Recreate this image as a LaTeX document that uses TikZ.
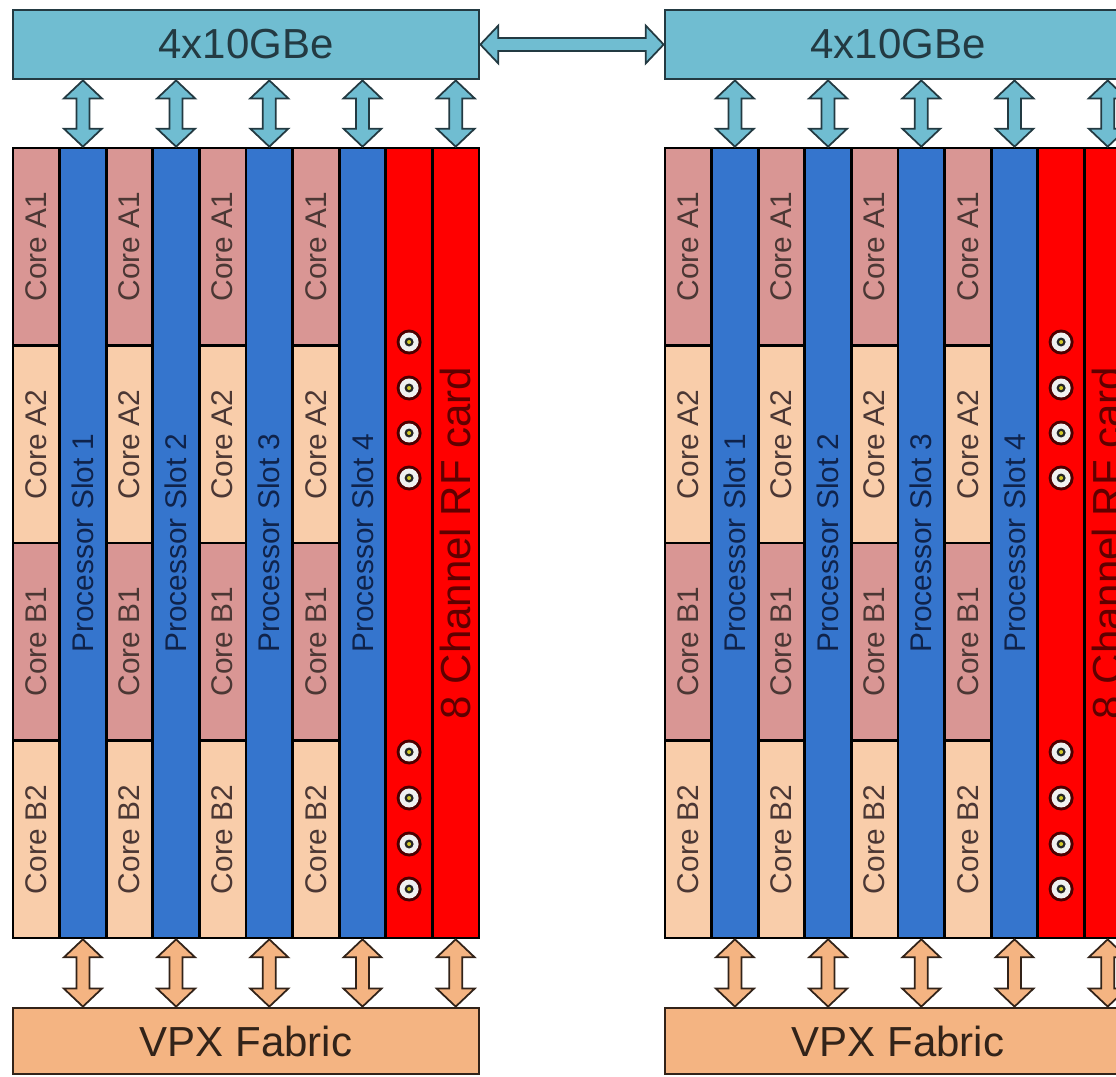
\documentclass[tikz,border=0pt]{standalone}
\usepackage{fontspec}
\setmainfont{Liberation Sans}
\usepackage{xcolor}
\usepackage{tikz}
\usetikzlibrary{calc}

\definecolor{gbecyan}{RGB}{112,189,209}
\definecolor{gbeline}{RGB}{35,58,66}
\definecolor{vpxorange}{RGB}{244,180,130}
\definecolor{vpxline}{RGB}{50,35,25}
\definecolor{corepink}{RGB}{217,150,148}
\definecolor{corepeach}{RGB}{249,205,170}
\definecolor{slotblue}{RGB}{53,117,205}
\definecolor{rfred}{RGB}{255,0,0}
\definecolor{coretext}{RGB}{75,55,52}
\definecolor{slottext}{RGB}{15,35,75}
\definecolor{rftext}{RGB}{95,0,0}

\tikzset{
  cell/.style={draw=black, line width=1.6pt, inner sep=0pt, minimum width=0.932cm},
  corecell/.style={cell, minimum height=3.95cm, text=coretext, font=\fontsize{17}{20}\selectfont},
  slotcell/.style={cell, fill=slotblue, minimum height=15.8cm, text=slottext, font=\fontsize{17}{20}\selectfont},
  rfcell/.style={cell, fill=rfred, minimum height=15.8cm, text=rftext, font=\fontsize{23.9}{28}\selectfont},
  gbebox/.style={draw=gbeline, fill=gbecyan, line width=1.6pt, inner sep=0pt, minimum width=9.32cm, minimum height=1.38cm, text=gbeline, font=\fontsize{23.9}{28}\selectfont},
  vpxbox/.style={draw=vpxline, fill=vpxorange, line width=1.6pt, inner sep=0pt, minimum width=9.32cm, minimum height=1.32cm, text=vpxline, font=\fontsize{23.9}{28}\selectfont},
  fatup/.style={fill=gbecyan, draw=gbeline, line width=1pt},
  fatdown/.style={fill=vpxorange, draw=vpxline, line width=1pt},
}

\newcommand{\vtext}[1]{\rotatebox{90}{#1}}
% fat double arrow: style, one tip, other tip
\newcommand{\fatarrow}[3]{%
  \draw[#1] (#2) -- ($(#2)!0.36cm!(#3)!0.38cm!90:(#3)$) -- ($(#2)!0.36cm!(#3)!0.13cm!90:(#3)$)
    -- ($(#3)!0.36cm!(#2)!0.13cm!-90:(#2)$) -- ($(#3)!0.36cm!(#2)!0.38cm!-90:(#2)$) -- (#3)
    -- ($(#3)!0.36cm!(#2)!0.38cm!90:(#2)$) -- ($(#3)!0.36cm!(#2)!0.13cm!90:(#2)$)
    -- ($(#2)!0.36cm!(#3)!0.13cm!-90:(#3)$) -- ($(#2)!0.36cm!(#3)!0.38cm!-90:(#3)$) -- cycle;}

\begin{document}
\begin{tikzpicture}[x=0.02cm, y=-0.02cm]
    \useasboundingbox (0,0) rectangle (1116,1076);
    \clip (0,0) rectangle (1116,1076);

    \foreach \s/\ox in {L/0, R/652}{
        \node[gbebox] (gbe\s) at (246+\ox, 44.5) {4x10GBe};
        \node[vpxbox] (vpx\s) at (246+\ox, 1041) {VPX Fabric};

        % four processor slots, each with its four cores
        \foreach \n in {1,...,4}{
            \node[corecell, fill=corepink] (core\s\n-a1) at ({36.3+\ox+93.2*(\n-1)}, 246.75) {\vtext{Core A1}};
            \node[corecell, fill=corepeach] (core\s\n-a2) at ({36.3+\ox+93.2*(\n-1)}, 444.25) {\vtext{Core A2}};
            \node[corecell, fill=corepink] (core\s\n-b1) at ({36.3+\ox+93.2*(\n-1)}, 641.75) {\vtext{Core B1}};
            \node[corecell, fill=corepeach] (core\s\n-b2) at ({36.3+\ox+93.2*(\n-1)}, 839.25) {\vtext{Core B2}};
            \node[slotcell] (slot\s\n) at ({82.9+\ox+93.2*(\n-1)}, 543) {\vtext{Processor Slot \n}};
        }

        % RF card
        \node[rfcell] (rf\s) at (409.1+\ox, 543) {};
        \node[rfcell] (card\s) at (455.7+\ox, 543) {\vtext{8 Channel RF card}};

        \foreach \cy in {342, 388, 433, 478, 752, 798, 844, 889}{
            \fill[black!70!red] (409.1+\ox, \cy) circle (0.25cm);
            \fill[white!88!gray] (409.1+\ox, \cy) circle (0.19cm);
            \fill[black!85] (409.1+\ox, \cy) circle (0.09cm);
            \fill[yellow!80!black] (409.1+\ox, \cy) circle (0.04cm);
        }

        \foreach \t in {slot\s1, slot\s2, slot\s3, slot\s4, card\s}{
            \coordinate (top-\t) at (gbe\s.south -| \t.north);
            \fatarrow{fatup}{top-\t}{\t.north}
            \coordinate (bot-\t) at (vpx\s.north -| \t.south);
            \fatarrow{fatdown}{\t.south}{bot-\t}
        }
    }

    \fatarrow{fatup}{gbeL.east}{gbeR.west}
\end{tikzpicture}
\end{document}
